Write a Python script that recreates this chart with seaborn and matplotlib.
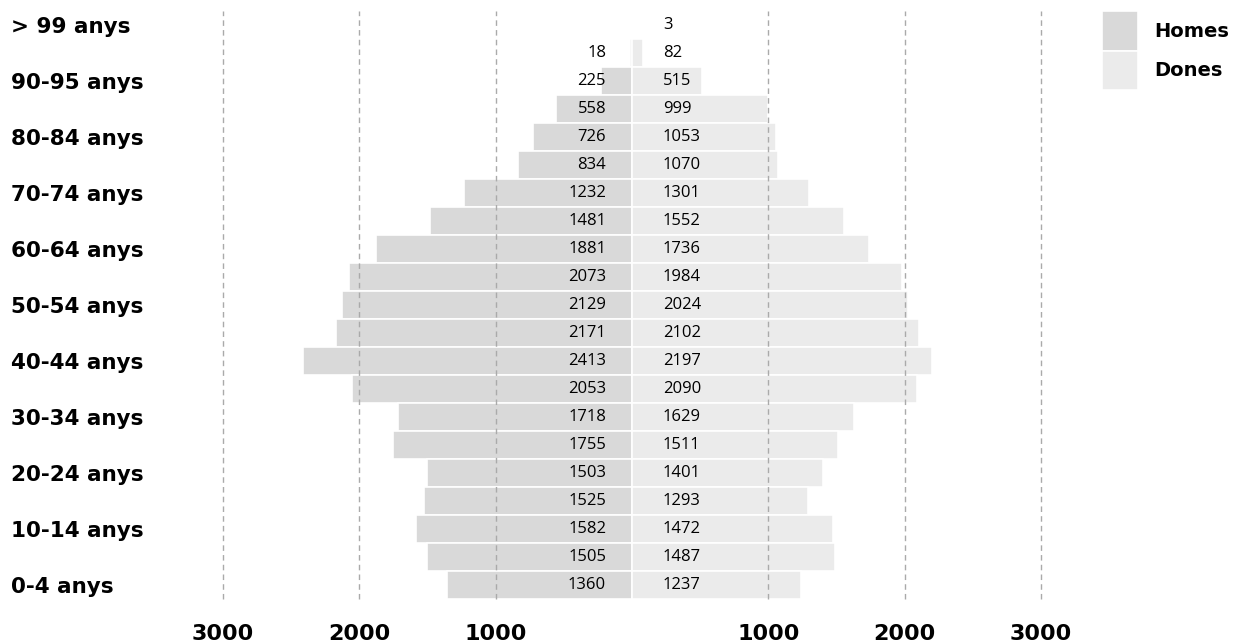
import pandas as pd
import matplotlib
matplotlib.use("Agg")
import matplotlib.pyplot as plt
import seaborn as sns

# Age groups, bottom to top
ages = ["0-4 anys", "5-9 anys", "10-14 anys", "15-19 anys", "20-24 anys", "25-29 anys",
        "30-34 anys", "35-39 anys", "40-44 anys", "45-49 anys", "50-54 anys", "55-59 anys",
        "60-64 anys", "65-69 anys", "70-74 anys", "75-79 anys", "80-84 anys", "85-89 anys",
        "90-95 anys", "95-99 anys", "> 99 anys"]
homes = [1360, 1505, 1582, 1525, 1503, 1755, 1718, 2053, 2413, 2171, 2129, 2073,
         1881, 1481, 1232, 834, 726, 558, 225, 18, 0]
dones = [1237, 1487, 1472, 1293, 1401, 1511, 1629, 2090, 2197, 2102, 2024, 1984,
         1736, 1552, 1301, 1070, 1053, 999, 515, 82, 3]
xticks = [-3000, -2000, -1000, 1000, 2000, 3000]

HOMES_COLOR = "#d9d9d9"
DONES_COLOR = "#ebebeb"

sns.set_theme(style="white")
plt.rcParams["font.family"] = ["Open Sans", "DejaVu Sans"]
plt.rcParams["text.color"] = "black"
plt.rcParams["xtick.color"] = "black"
plt.rcParams["ytick.color"] = "black"
BOLD = {"family": "DejaVu Sans", "weight": "bold"}

# long table, men to the left
df = pd.DataFrame({
    "age": ages * 2,
    "value": [-v for v in homes] + dones,
    "sex": ["Homes"] * len(ages) + ["Dones"] * len(ages),
})
order = ages[::-1]  # top row first

fig = plt.figure(figsize=(12.44, 6.43), dpi=100)
ax = fig.add_axes([223 / 1244, 44 / 643, 818 / 1244, 588 / 643])

sns.barplot(data=df, x="value", y="age", hue="sex", order=order, orient="h",
            dodge=False, width=1.0, palette={"Homes": HOMES_COLOR, "Dones": DONES_COLOR},
            edgecolor="white", linewidth=1.2, ax=ax, legend=True)

ax.set_xlim(-3000, 3000)
ax.set_ylim(len(ages) - 0.5, -0.5)

# value labels
for i, age in enumerate(order):
    idx = ages.index(age)
    if homes[idx] > 0:
        ax.text(-190, i, str(homes[idx]), ha="right", va="center", fontsize=12, color="black")
    if dones[idx] > 0:
        ax.text(227, i, str(dones[idx]), ha="left", va="center", fontsize=12, color="black")

# dashed guides over the bars
for xv in xticks:
    ax.axvline(xv, color="#aaaaaa", linestyle=(0, (4, 3)), linewidth=1, zorder=5, clip_on=False)

ax.set_xticks(xticks)
ax.set_xticklabels([str(abs(x)) for x in xticks], fontsize=16, color="black", **BOLD)
ax.tick_params(axis="x", length=0, pad=18)

shown = [i for i, a in enumerate(order) if ages.index(a) % 2 == 0]
ax.set_yticks(shown)
ax.set_yticklabels([order[i] for i in shown], fontsize=15.5, ha="left", color="black", **BOLD)
ax.tick_params(axis="y", length=0, pad=153)

ax.set_xlabel("")
ax.set_ylabel("")
sns.despine(ax=ax, left=True, bottom=True)

handles, labels = ax.get_legend_handles_labels()
ax.legend_.remove()
leg = fig.legend(handles, labels, loc="upper left", bbox_to_anchor=(1102 / 1244, 1 - 11 / 643),
                 frameon=False, prop={"family": "DejaVu Sans", "weight": "bold", "size": 14},
                 handlelength=1.85, handleheight=2.75, handletextpad=0.85,
                 labelspacing=0.0, borderpad=0, borderaxespad=0)
for t in leg.get_texts():
    t.set_color("black")

plt.savefig("out.png", dpi=100)
plt.close()
